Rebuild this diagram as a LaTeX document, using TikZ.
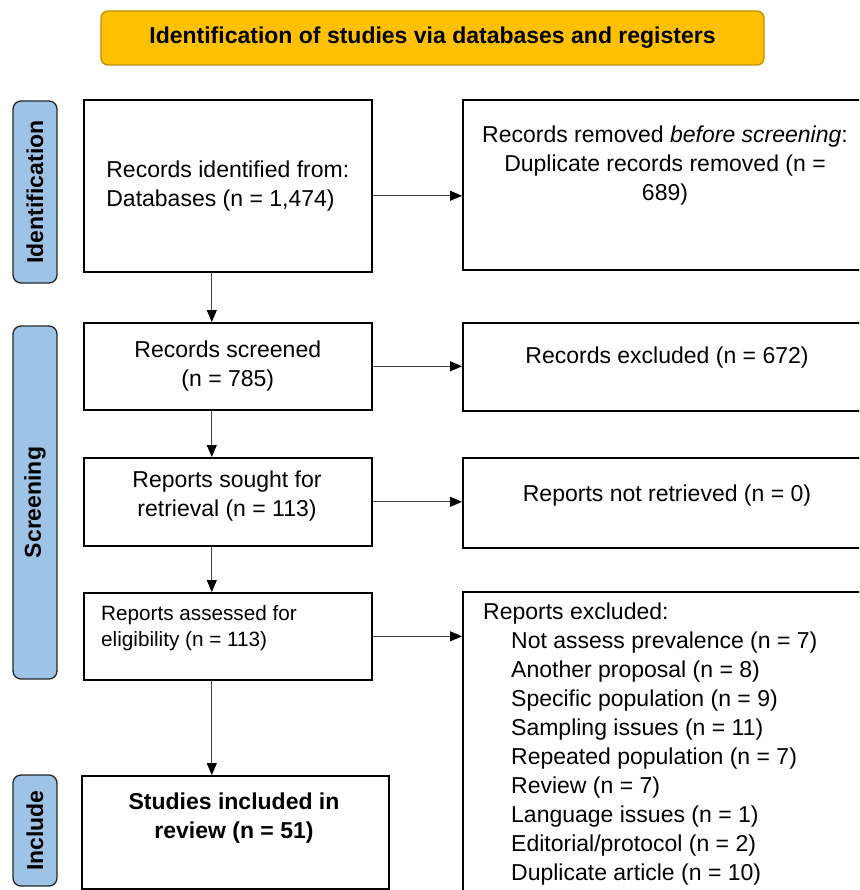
\documentclass[tikz,border=0pt]{standalone}
\usepackage{fontspec}
\setmainfont{Liberation Sans}
\usepackage{xcolor}
\usepackage{tikz}
\usetikzlibrary{positioning}
\usetikzlibrary{shapes.geometric, arrows.meta}
\definecolor{bannerfill}{HTML}{FFC000}
\definecolor{bannerdraw}{HTML}{BF9000}
\definecolor{phasefill}{HTML}{9DC3E6}
\newcommand{\bigtxt}{\fontsize{23}{29}\selectfont}
\newcommand{\smalltxt}{\fontsize{20.7}{26}\selectfont}
\tikzstyle{banner} = [rectangle, rounded corners=7pt, minimum width=663pt, minimum height=54pt, draw=bannerdraw, line width=1.3pt, fill=bannerfill, font=\bigtxt\bfseries]
\tikzstyle{phase} = [rectangle, rounded corners=8pt, rotate=90, minimum height=44pt, draw=black!85, line width=1.3pt, fill=phasefill, font=\fontsize{23}{27}\selectfont\bfseries]
\tikzstyle{box} = [rectangle, anchor=north west, inner sep=0pt, draw=black, line width=1.6pt, align=center, font=\bigtxt]
\tikzstyle{txt} = [inner sep=0pt, align=center, font=\bigtxt]
\tikzstyle{arrow} = [line width=0.9pt, draw=black!75, -{Triangle[length=12pt, width=10pt, black]}]

\begin{document}
\begin{tikzpicture}[x=1pt, y=-1pt]
    \clip (0,0) rectangle (859,890);
    % Header and phases
    \node (head) [banner] at (432.5,38) {Identification of studies via databases and registers};
    \node (phaseid) [phase, minimum width=182pt] at (35,192) {Identification};
    \node (phasescr) [phase, minimum width=353pt] at (35,502.5) {Screening};
    \node (phaseinc) [phase, minimum width=111pt] at (35,830.5) {Include};
    % Left column
    \node (ident) [box, align=left, minimum width=288pt, minimum height=172pt] at (83,99) {Records identified from:\\Databases (n = 1,474)};
    \node (screened) [box, minimum width=288pt, minimum height=87pt] at (83,322) {Records screened\\(n = 785)};
    \node (sought) [box, minimum width=288pt, minimum height=88pt] at (83,457) {};
    \node (assessed) [box, minimum width=288pt, minimum height=87pt] at (83,592) {};
    \node (included) [box, minimum width=307pt, minimum height=113pt] at (81,775) {};
    % Right column
    \node (removed) [box, minimum width=406pt, minimum height=170pt] at (462,99) {};
    \node (excluded) [box, minimum width=406pt, minimum height=88pt] at (462,322) {};
    \node (notret) [box, minimum width=406pt, minimum height=90pt] at (462,457) {};
    \node (repexcl) [box, minimum width=406pt, minimum height=320pt] at (462,591) {};
    % Texts
    \node (removedtxt) [txt, anchor=north] at (665,126) {Records removed \textit{before screening}:\\Duplicate records removed (n =\\689)};
    \node (excludedtxt) [txt, anchor=north] at (667,347) {Records excluded (n = 672)};
    \node (soughttxt) [txt, anchor=north] at (227,471) {Reports sought for\\retrieval (n = 113)};
    \node (notrettxt) [txt, anchor=north] at (667,485) {Reports not retrieved (n = 0)};
    \node (assessedtxt) [txt, anchor=north west, align=left, font=\smalltxt] at (101,605) {Reports assessed for\\eligibility (n = 113)};
    \node (includedtxt) [txt, anchor=north, font=\bigtxt\bfseries] at (234,793) {Studies included in\\review (n = 51)};
    \node (repexcltxt) [txt, anchor=north west, align=left] at (483,603) {Reports excluded:\\
        \hspace*{28pt}Not assess prevalence (n = 7)\\
        \hspace*{28pt}Another proposal (n = 8)\\
        \hspace*{28pt}Specific population (n = 9)\\
        \hspace*{28pt}Sampling issues (n = 11)\\
        \hspace*{28pt}Repeated population (n = 7)\\
        \hspace*{28pt}Review (n = 7)\\
        \hspace*{28pt}Language issues (n = 1)\\
        \hspace*{28pt}Editorial/protocol (n = 2)\\
        \hspace*{28pt}Duplicate article (n = 10)};
    % Arrows
    \draw [arrow] ([xshift=-16pt]ident.south) -- ([xshift=-16pt]screened.north);
    \draw [arrow] ([xshift=-16pt]screened.south) -- ([xshift=-16pt]sought.north);
    \draw [arrow] ([xshift=-16pt]sought.south) -- ([xshift=-16pt]assessed.north);
    \draw [arrow] ([xshift=-16pt]assessed.south) -- ([xshift=-16pt]assessed.south |- included.north);
    \draw [arrow] ([yshift=-10pt]ident.east) -- ([yshift=-10pt]ident.east -| removed.west);
    \draw [arrow] (screened.east) -- (screened.east -| excluded.west);
    \draw [arrow] (sought.east) -- (sought.east -| notret.west);
    \draw [arrow] (assessed.east) -- (assessed.east -| repexcl.west);
\end{tikzpicture}
\end{document}
